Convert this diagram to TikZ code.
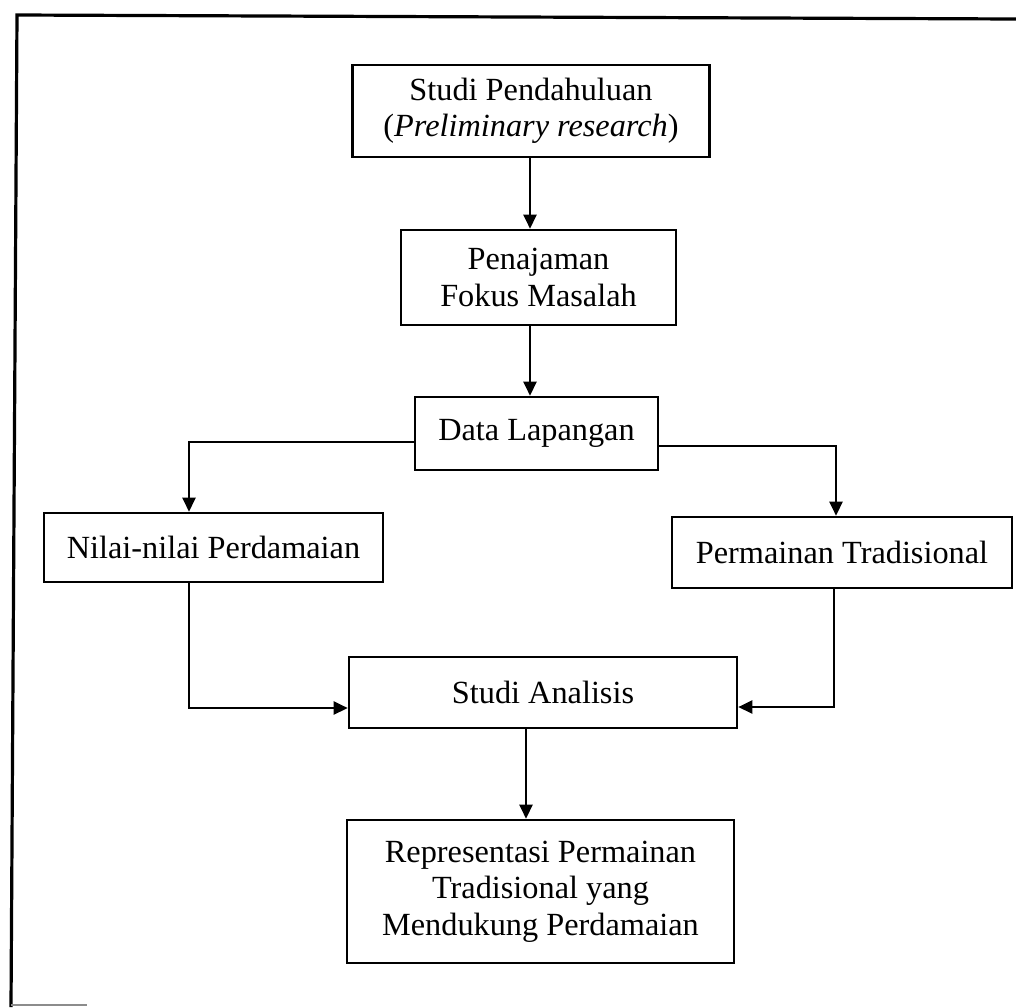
\documentclass[tikz,border=0pt]{standalone}
\usepackage{fontspec}
\setmainfont{Liberation Serif}
\usetikzlibrary{arrows.meta}
\begin{document}
\begin{tikzpicture}[x=1pt,y=-1pt,
  box/.style={draw,line width=2.6pt,inner sep=0pt,align=center,
    font=\fontsize{32.3}{36.5}\selectfont},
  conn/.style={line width=2.4pt,-{Triangle[length=14pt,width=13pt]}},
  frameline/.style={line width=3.2pt}
]
\useasboundingbox (0,0) rectangle (1016,1007);
% outer frame (open on the right and bottom)
\draw[frameline] (1016,19) -- (17,15) -- (11,1007);
\draw[line width=1.5pt,black!45] (11,1005) -- (87,1005);

\node[box,minimum width=357pt,minimum height=92pt] (A) at (531,111)
  {Studi Pendahuluan\\(\textit{Preliminary research})};
\node[box,minimum width=275pt,minimum height=95pt] (B) at (538.5,277.5)
  {Penajaman\\Fokus Masalah};
\node[box,minimum width=243pt,minimum height=73pt] (C) at (536.5,433.5)
  {Data Lapangan};
\node[box,minimum width=339pt,minimum height=69pt] (D) at (213.5,547.5)
  {Nilai-nilai Perdamaian};
\node[box,minimum width=340pt,minimum height=71pt] (E) at (842,552.5)
  {Permainan Tradisional};
\node[box,minimum width=388pt,minimum height=71pt] (F) at (543,692.5)
  {Studi Analisis};
\node[box,minimum width=387pt,minimum height=143pt] (G) at (540.5,891.5)
  {Representasi Permainan\\Tradisional yang\\Mendukung Perdamaian};

\draw[conn] ([xshift=-1pt]A.south) -- ([xshift=-1pt]A.south |- B.north);
\draw[conn] ([xshift=-8.5pt]B.south) -- ([xshift=-8.5pt]B.south |- C.north);
\draw[conn] ([yshift=-8.5pt]C.west) -| ([xshift=-24.5pt]D.north);
\draw[conn] ([yshift=-12.5pt]C.east) -| ([xshift=-6pt]E.north);
\draw[conn] ([xshift=-24.5pt]D.south) |- ([yshift=-15.5pt]F.west);
\draw[conn] ([xshift=-8pt]E.south) |- ([yshift=-14.5pt]F.east);
\draw[conn] ([xshift=-17pt]F.south) -- ([xshift=-17pt]F.south |- G.north);
\end{tikzpicture}
\end{document}
